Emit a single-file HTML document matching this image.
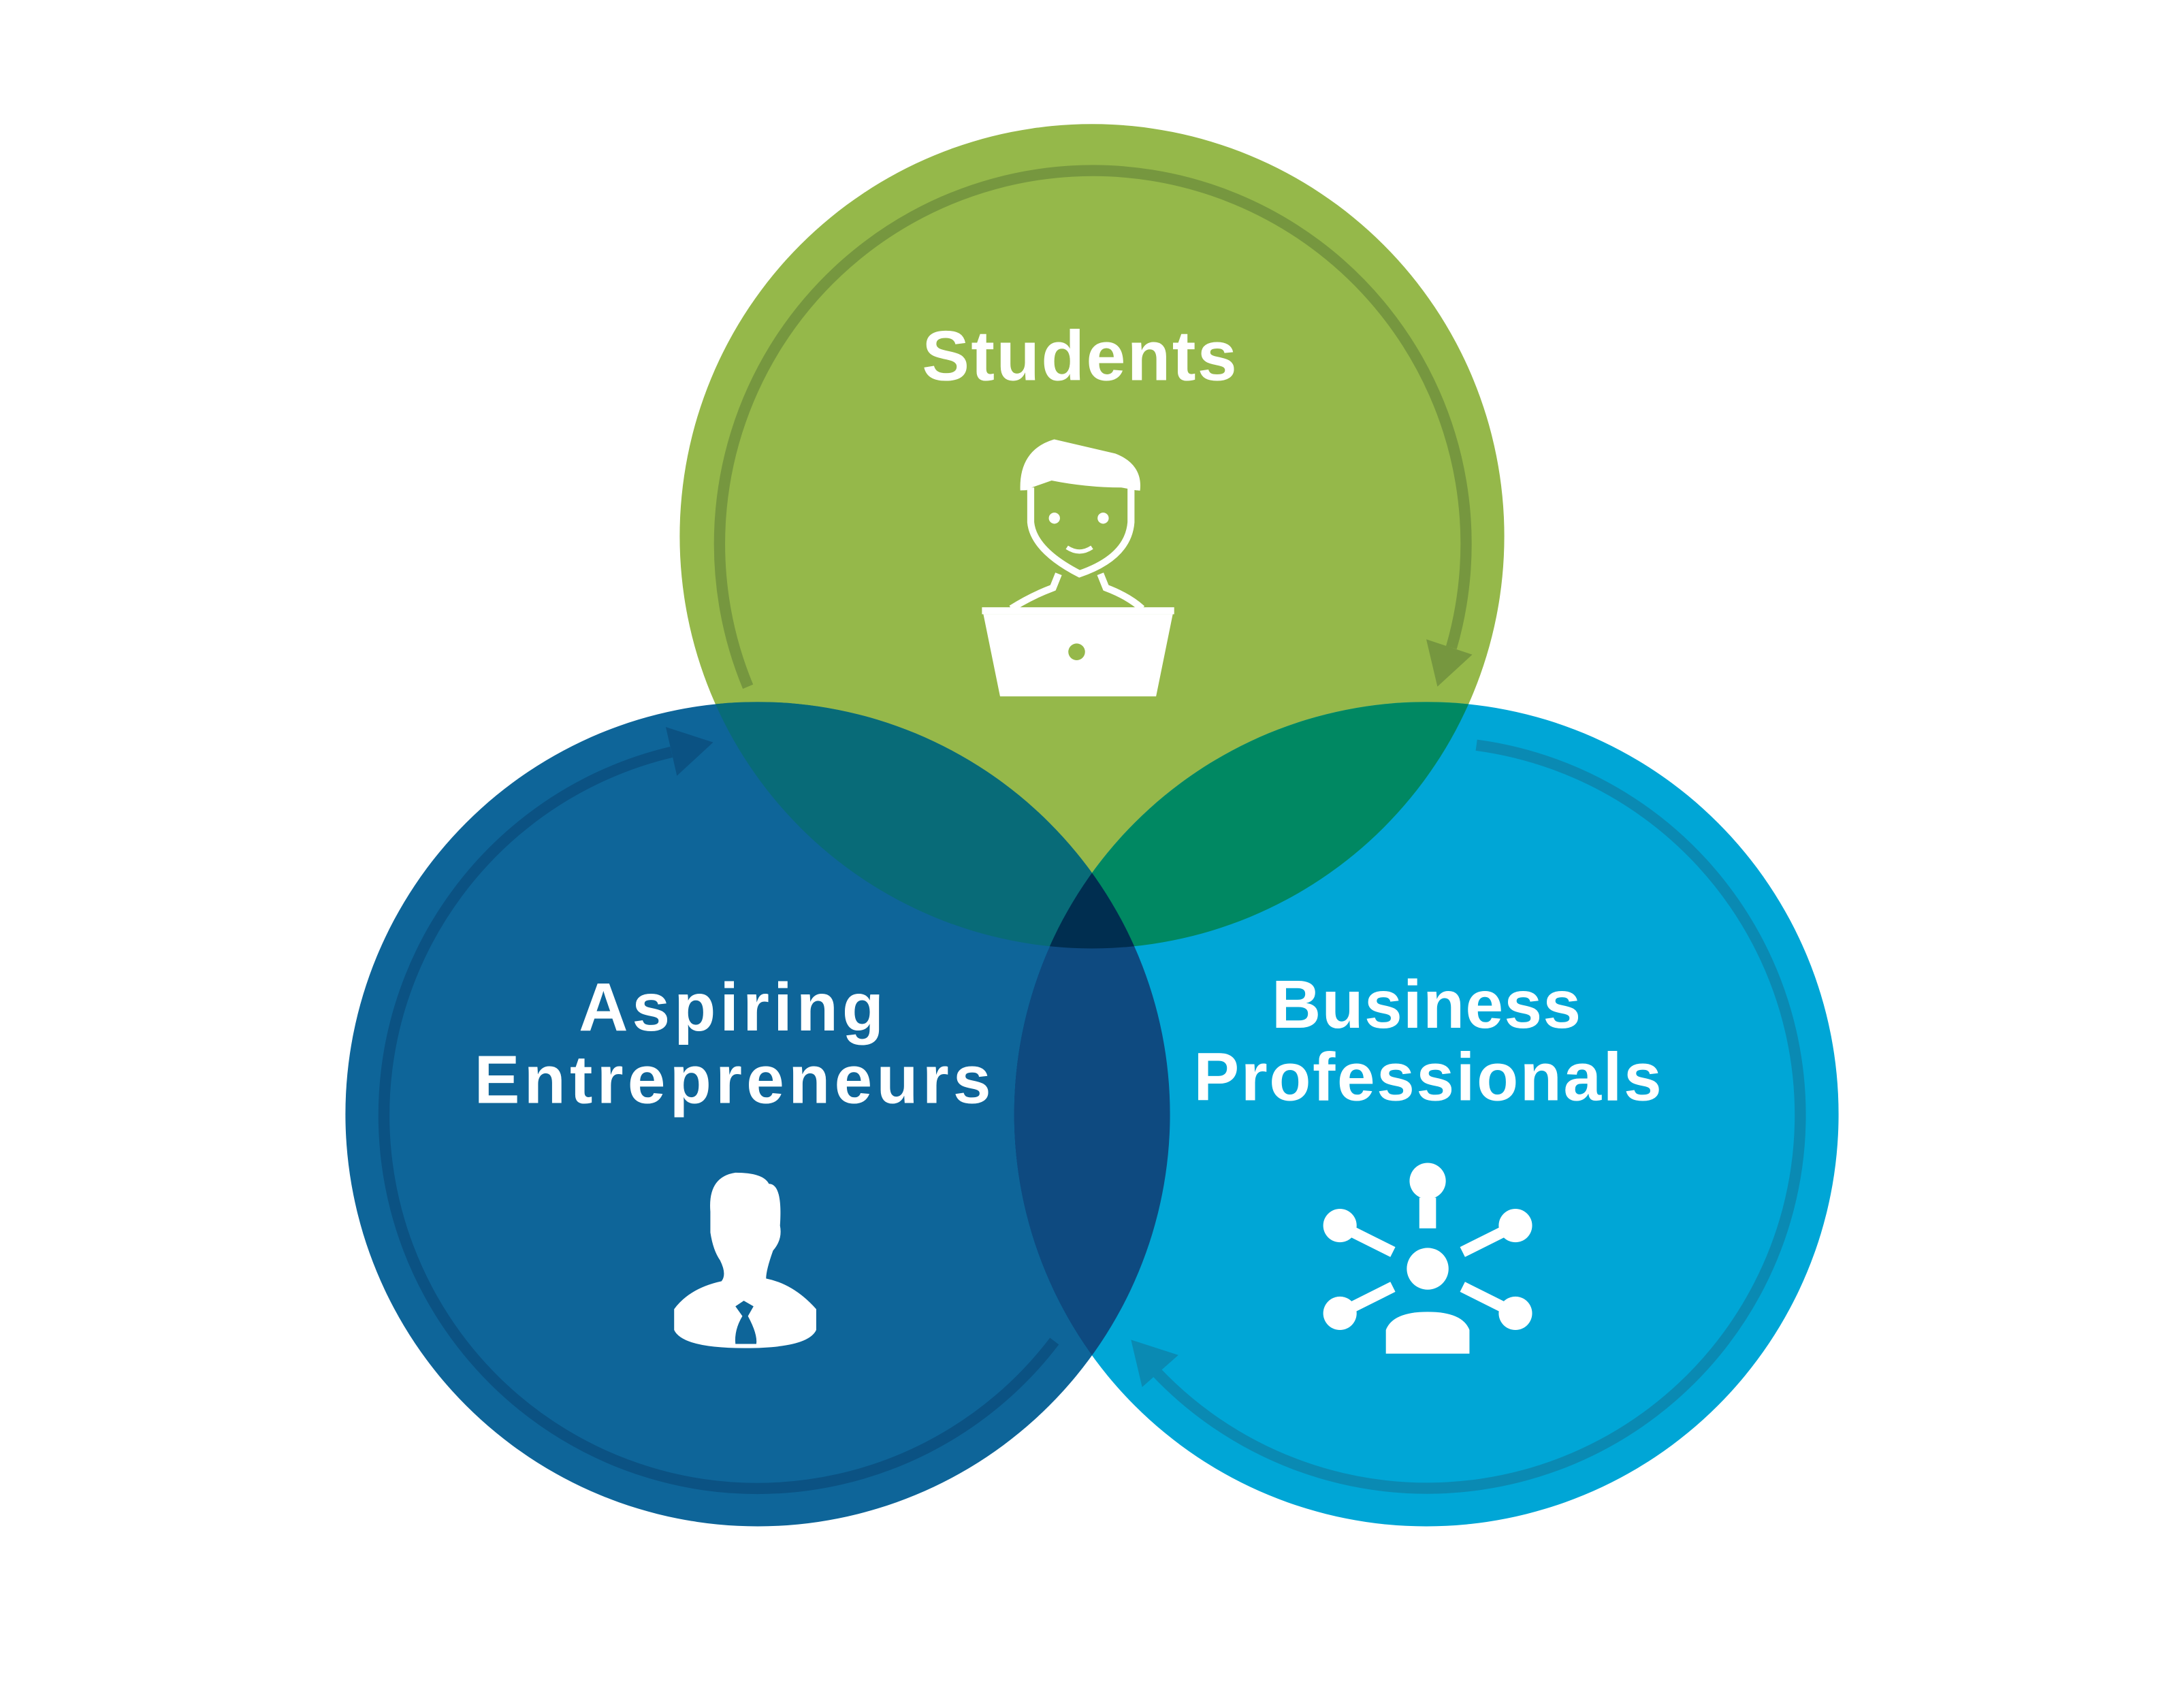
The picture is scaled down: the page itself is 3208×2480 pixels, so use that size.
<!DOCTYPE html>
<html><head><meta charset="utf-8"><style>
html,body{margin:0;padding:0;background:#fff;}
svg{display:block;}
text{font-family:"Liberation Sans",sans-serif;font-weight:bold;fill:#fff;text-anchor:middle;}
</style></head><body>
<svg width="3208" height="2480" viewBox="0 0 1568 1212" xmlns="http://www.w3.org/2000/svg">
<defs>
<clipPath id="cg"><circle cx="784" cy="385" r="296"/></clipPath>
<clipPath id="cl"><circle cx="544" cy="800" r="296"/></clipPath>
<clipPath id="cr"><circle cx="1024" cy="800" r="296"/></clipPath>
</defs>
<rect width="1568" height="1212" fill="#fff"/>
<circle cx="784" cy="385" r="296" fill="#95b84a"/>
<circle cx="544" cy="800" r="296" fill="#0e6599"/>
<circle cx="1024" cy="800" r="296" fill="#00a6d6"/>
<g clip-path="url(#cg)"><circle cx="544" cy="800" r="296" fill="#086b78"/><circle cx="1024" cy="800" r="296" fill="#008862"/></g>
<g clip-path="url(#cl)"><circle cx="1024" cy="800" r="296" fill="#0e4a80"/></g>
<g clip-path="url(#cg)"><g clip-path="url(#cl)"><circle cx="1024" cy="800" r="296" fill="#002e50"/></g></g>

<path d="M537 493 A268 268 0 1 1 1042 465" fill="none" stroke="#76973f" stroke-width="8"/>
<polygon points="1057,470 1024,459 1032,493" fill="#76973f"/>
<path d="M757 963 A268 268 0 1 1 482 540" fill="none" stroke="#0b5283" stroke-width="8"/>
<polygon points="512,533 478,522 486,557" fill="#0b5283"/>
<path d="M1060 535 A268 268 0 1 1 830 985" fill="none" stroke="#0a8ab3" stroke-width="8"/>
<polygon points="812,962 846,973 820,996" fill="#0a8ab3"/>

<text x="775" y="273" font-size="51" textLength="226" lengthAdjust="spacing">Students</text>
<text x="525" y="740" font-size="49" textLength="219" lengthAdjust="spacing">Aspiring</text>
<text x="526" y="792" font-size="49" textLength="371" lengthAdjust="spacing">Entrepreneurs</text>
<text x="1024" y="738" font-size="49" textLength="222" lengthAdjust="spacing">Business</text>
<text x="1025" y="790" font-size="49" textLength="336" lengthAdjust="spacing">Professionals</text>

<g fill="none" stroke="#fff" stroke-width="5">
<path d="M740 350 L740 375 Q742 395 775 412 Q810 400 812 375 L812 350"/>
<path d="M735 352 Q734 325 757 318 L800 328 Q818 335 816 352"/>
<path d="M760 412 L756 422 Q740 428 726 437 M790 412 L794 422 Q810 428 820 437"/>
</g>
<path d="M735 352 Q734 325 757 316 L795 326 Q818 333 816 352 L805 350 Q780 350 755 345 Z" fill="#fff"/>
<circle cx="757" cy="372" r="4" fill="#fff"/><circle cx="792" cy="372" r="4" fill="#fff"/>
<path d="M766 393 Q775 399 784 393" stroke="#fff" stroke-width="3" fill="none"/>
<rect x="705" y="436" width="138" height="5" fill="#fff"/>
<path d="M706 441 L842 441 L830 500 L718 500 Z" fill="#fff"/>
<circle cx="773" cy="468" r="6" fill="#95b84a"/>

<path d="M510 870 Q508 845 528 842 Q548 842 552 850 Q562 850 560 880 Q562 890 555 898 Q550 912 550 918 Q570 922 586 940 L586 955 Q580 968 535 968 Q490 968 484 955 L484 940 Q495 925 518 920 Q522 915 517 905 Q512 898 510 885 Z" fill="#fff"/>
<path d="M528 938 L534 934 L541 938 L537 945 Q544 958 543 965 L528 965 Q527 955 533 945 Z" fill="#0e6599"/>

<g fill="#fff">
<circle cx="1025" cy="848" r="13"/><rect x="1019" y="860" width="12" height="22"/>
<circle cx="1025" cy="911" r="15"/>
<path d="M995 972 L995 955 Q1000 942 1025 942 Q1050 942 1055 955 L1055 972 Z"/>
<circle cx="962" cy="880" r="12"/><circle cx="1088" cy="880" r="12"/>
<circle cx="962" cy="943" r="12"/><circle cx="1088" cy="943" r="12"/>
</g>
<g stroke="#fff" stroke-width="8">
<line x1="970" y1="884" x2="1000" y2="899"/><line x1="1080" y1="884" x2="1050" y2="899"/>
<line x1="970" y1="939" x2="1000" y2="924"/><line x1="1080" y1="939" x2="1050" y2="924"/>
</g>
</svg>
</body></html>
